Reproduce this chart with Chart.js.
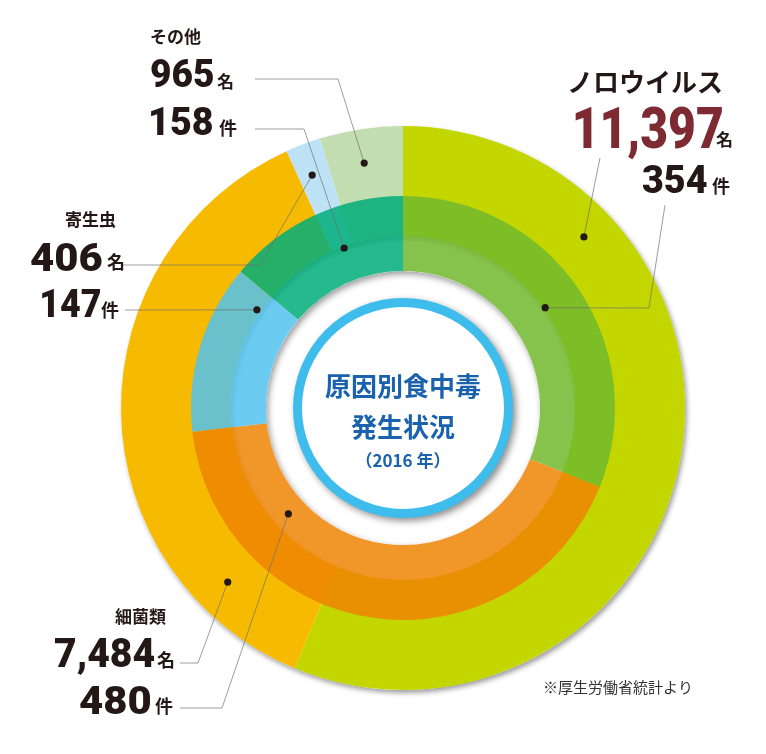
<!DOCTYPE html>
<html><head><meta charset="utf-8">
<script src="https://cdn.jsdelivr.net/npm/chart.js@4/dist/chart.umd.min.js"></script>
<style>
html,body{margin:0;padding:0;background:#fff;}
#wrap{position:relative;width:766px;height:754px;overflow:hidden;}
#wrap canvas{position:absolute;left:0;top:0;}
</style></head><body>
<div id="wrap"><canvas id="outer" width="766" height="754"></canvas><canvas id="inner" width="766" height="754"></canvas></div>
<script>
// ---- data ----
const categories = ['ノロウイルス', '細菌類', '寄生虫', 'その他'];
const patients = [11397, 7484, 406, 965];   // 患者数（名）
const incidents = [354, 480, 147, 158];     // 事件数（件）
const patientUnit = '名';
const incidentUnit = '件';
const centerTitle = ['原因別食中毒', '発生状況', '（2016 年）'];
const sourceNote = '※厚生労働省統計より';

// ---- styles ----
const outerColors = ['#c4d600', '#f6bb00', '#bde2f6', '#c2deb0'];
const innerColors = ['rgba(113,185,45,0.85)', 'rgba(238,132,2,0.85)', 'rgba(82,194,238,0.85)', 'rgba(1,173,122,0.85)'];
const TXT = '#231815';
const NUM_FONT = 'Roboto, "Noto Sans", sans-serif';
const JP_FONT = '"Noto Sans CJK JP", "Noto Sans", sans-serif';

// label layout (per category, same order as categories)
const layout = [
  { title: {x: 569, y: 82, size: 26, weight: 'bold'},
    n1: {x: 575, base: 148, size: 57, w: 147, color: '#7d2a33'}, u1: {x: 716, y: 139, size: 17},
    n2: {x: 642, base: 193, size: 39, w: 65}, u2: {x: 712, y: 186, size: 18},
    d1: {a: 46.6, r: 249}, p1: [[600, 158]],
    d2: {a: 54.8, r: 174}, p2: [[665, 205], [649, 308]] },
  { title: {x: 115, y: 616, size: 17, weight: 'bold'},
    n1: {x: 55, base: 667, size: 40, w: 100}, u1: {x: 157, y: 660, size: 18},
    n2: {x: 80, base: 714, size: 39, w: 70}, u2: {x: 155, y: 706, size: 18},
    d1: {a: 225.2, r: 247}, p1: [[180, 663], [198, 663]],
    d2: {a: 227.3, r: 156}, p2: [[180, 708], [222, 708]] },
  { title: {x: 65, y: 220, size: 17, weight: 'bold'},
    n1: {x: 31, base: 271, size: 39, w: 71}, u1: {x: 107, y: 262, size: 18},
    n2: {x: 42, base: 317, size: 39, w: 58}, u2: {x: 101, y: 310, size: 18},
    d1: {a: 338.7, r: 250}, p1: [[123, 265], [260, 265]],
    d2: {a: 303.9, r: 176}, p2: [[125, 310]] },
  { title: {x: 151, y: 37, size: 17, weight: 'bold'},
    n1: {x: 151, base: 87, size: 39, w: 62}, u1: {x: 217, y: 81, size: 17},
    n2: {x: 151, base: 135, size: 39, w: 61}, u2: {x: 219, y: 128, size: 18},
    d1: {a: 351, r: 248}, p1: [[255, 79], [338, 79]],
    d2: {a: 339.8, r: 170.5}, p2: [[255, 129], [304, 129]] }
];

const DEG = Math.PI / 180;
function polar(cx, cy, a, r) { return {x: cx + r * Math.sin(a * DEG), y: cy - r * Math.cos(a * DEG)}; }

function fitNum(ctx, s, left, base, size, width, color) {
  ctx.save();
  ctx.font = `900 ${size}px ${NUM_FONT}`;
  ctx.textAlign = 'left'; ctx.textBaseline = 'alphabetic';
  const m = ctx.measureText(s);
  const vis = m.actualBoundingBoxLeft + m.actualBoundingBoxRight;
  ctx.translate(left, base); ctx.scale(width / vis, 1);
  ctx.fillStyle = color || TXT;
  ctx.fillText(s, m.actualBoundingBoxLeft, 0);
  ctx.restore();
}
function jp(ctx, s, x, midY, size, weight, color, align) {
  ctx.save();
  ctx.font = `${weight} ${size}px ${JP_FONT}`;
  ctx.textAlign = 'left'; ctx.textBaseline = 'alphabetic';
  const m = ctx.measureText(s);
  const vis = m.actualBoundingBoxLeft + m.actualBoundingBoxRight;
  let lx = align === 'center' ? x - vis / 2 : x;
  const y = midY + (m.actualBoundingBoxAscent - m.actualBoundingBoxDescent) / 2;
  ctx.fillStyle = color || TXT;
  ctx.fillText(s, lx + m.actualBoundingBoxLeft, y);
  ctx.restore();
}
function ringGeom(chart) {
  const el = chart.getDatasetMeta(0).data[0];
  return el.getProps(['x', 'y', 'outerRadius', 'innerRadius'], true);
}

const outerShadow = {
  id: 'outerShadow',
  beforeDatasetsDraw(chart) {
    const {ctx} = chart; const g = ringGeom(chart);
    ctx.save();
    ctx.beginPath();
    ctx.arc(g.x, g.y, g.outerRadius, 0, 2 * Math.PI);
    ctx.arc(g.x, g.y, g.innerRadius, 0, 2 * Math.PI, true);
    ctx.fillStyle = '#ffffff';
    ctx.shadowColor = 'rgba(0,0,0,0.38)'; ctx.shadowBlur = 5; ctx.shadowOffsetX = 2; ctx.shadowOffsetY = 3;
    ctx.fill();
    ctx.restore();
  }
};

const innerDecor = {
  id: 'innerDecor',
  beforeDatasetsDraw(chart) {
    const {ctx} = chart; const g = ringGeom(chart);
    ctx.save();
    ctx.beginPath(); ctx.arc(g.x, g.y, g.innerRadius, 0, 2 * Math.PI); ctx.clip();
    ctx.beginPath();
    ctx.arc(g.x, g.y, g.outerRadius, 0, 2 * Math.PI);
    ctx.arc(g.x, g.y, g.innerRadius, 0, 2 * Math.PI, true);
    ctx.fillStyle = '#ffffff';
    ctx.shadowColor = 'rgba(0,0,0,0.4)'; ctx.shadowBlur = 6; ctx.shadowOffsetX = 2; ctx.shadowOffsetY = 3;
    ctx.fill();
    ctx.restore();
  },
  afterDatasetsDraw(chart) {
    const {ctx} = chart; const g = ringGeom(chart);
    const cx = g.x, cy = g.y;
    // centre badge
    ctx.save();
    ctx.beginPath(); ctx.arc(cx, cy, 110, 0, 2 * Math.PI);
    ctx.fillStyle = '#3ebdec';
    ctx.shadowColor = 'rgba(0,0,0,0.45)'; ctx.shadowBlur = 7; ctx.shadowOffsetX = 3; ctx.shadowOffsetY = 3;
    ctx.fill();
    ctx.restore();
    ctx.save();
    ctx.beginPath(); ctx.arc(cx, cy, 101, 0, 2 * Math.PI);
    ctx.fillStyle = '#ffffff'; ctx.fill();
    ctx.restore();
    jp(ctx, centerTitle[0], cx, cy - 22, 26, 'bold', '#1a62ad', 'center');
    jp(ctx, centerTitle[1], cx, cy + 19, 26, 'bold', '#1a62ad', 'center');
    jp(ctx, centerTitle[2], cx, cy + 52, 17, 'bold', '#1a62ad', 'center');

    // leader lines + dots
    layout.forEach((L) => {
      [[L.d1, L.p1], [L.d2, L.p2]].forEach(([d, p]) => {
        const pt = polar(cx, cy, d.a, d.r);
        ctx.save();
        ctx.beginPath();
        ctx.moveTo(p[0][0], p[0][1]);
        for (let k = 1; k < p.length; k++) ctx.lineTo(p[k][0], p[k][1]);
        ctx.lineTo(pt.x, pt.y);
        ctx.strokeStyle = 'rgba(110,110,110,0.85)'; ctx.lineWidth = 0.8; ctx.stroke();
        ctx.beginPath(); ctx.arc(pt.x, pt.y, 3.6, 0, 2 * Math.PI);
        ctx.fillStyle = TXT; ctx.fill();
        ctx.restore();
      });
    });

    // labels
    layout.forEach((L, i) => {
      jp(ctx, categories[i], L.title.x, L.title.y, L.title.size, L.title.weight, TXT);
      fitNum(ctx, patients[i].toLocaleString('en-US'), L.n1.x, L.n1.base, L.n1.size, L.n1.w, L.n1.color || TXT);
      jp(ctx, patientUnit, L.u1.x, L.u1.y, L.u1.size, 'bold', TXT);
      fitNum(ctx, incidents[i].toLocaleString('en-US'), L.n2.x, L.n2.base, L.n2.size, L.n2.w, TXT);
      jp(ctx, incidentUnit, L.u2.x, L.u2.y, L.u2.size, 'bold', TXT);
    });
    jp(ctx, sourceNote, 545, 688, 15, 'normal', '#333333');
  }
};

const baseOptions = (radius, cutoutPx) => ({
  responsive: false,
  animation: false,
  events: [],
  radius: radius,
  cutout: (cutoutPx / radius * 100) + '%',
  layout: {padding: {left: 40, top: 62, right: 0, bottom: 0}},
  plugins: {legend: {display: false}, tooltip: {enabled: false}}
});

new Chart(document.getElementById('outer'), {
  type: 'doughnut',
  data: {labels: categories, datasets: [{data: patients, backgroundColor: outerColors, borderWidth: 0}]},
  options: baseOptions(282, 172),
  plugins: [outerShadow]
});
new Chart(document.getElementById('inner'), {
  type: 'doughnut',
  data: {labels: categories, datasets: [{data: incidents, backgroundColor: innerColors, borderWidth: 0}]},
  options: baseOptions(212, 137),
  plugins: [innerDecor]
});
</script>
</body></html>
